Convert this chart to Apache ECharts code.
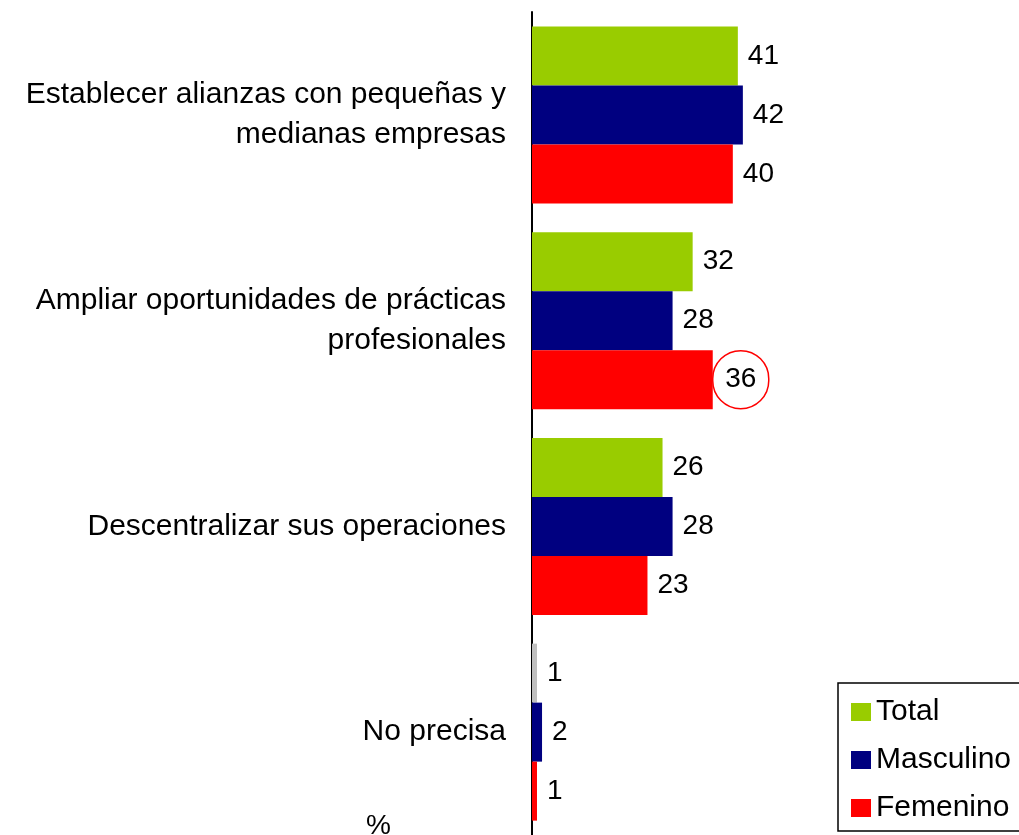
<!DOCTYPE html>
<html>
<head>
<meta charset="utf-8">
<script src="https://cdn.jsdelivr.net/npm/echarts@6/dist/echarts.min.js"></script>
<style>
  html, body { margin: 0; padding: 0; background: #fff; }
  #chart { width: 1019px; height: 835px; }
</style>
</head>
<body>
<div id="chart"></div>
<script>
var categories = [
  "Establecer alianzas con pequeñas y\nmedianas empresas",
  "Ampliar oportunidades de prácticas\nprofesionales",
  "Descentralizar sus operaciones",
  "No precisa"
];
var totalValues = [41, 32, 26, 1];
var masculinoValues = [42, 28, 28, 2];
var femeninoValues = [40, 36, 23, 1];

var font = "Liberation Sans, Arial, sans-serif";

var labelStyle = {
  show: true,
  position: "right",
  distance: 10,
  fontSize: 28,
  fontFamily: font,
  color: "#000"
};

var myChart = echarts.init(document.getElementById("chart"));

var option = {
  animation: false,
  textStyle: { fontFamily: font },
  grid: { left: 532, top: 12, right: 0, bottom: 0 },
  xAxis: {
    type: "value",
    min: 0,
    max: 97,
    show: false
  },
  yAxis: {
    type: "category",
    inverse: true,
    data: categories,
    axisLine: { lineStyle: { color: "#000", width: 2 } },
    axisTick: { show: false },
    axisLabel: {
      fontSize: 30,
      color: "#000",
      fontFamily: font,
      margin: 26,
      lineHeight: 40,
      align: "right"
    }
  },
  legend: {
    orient: "vertical",
    left: 838,
    top: 683,
    borderColor: "#000",
    borderWidth: 1.5,
    padding: [14, 12, 8, 13],
    itemGap: 18,
    itemWidth: 20,
    itemHeight: 18,
    itemTextGap: 7,
    icon: "rect",
    textStyle: { fontSize: 30, color: "#000", fontFamily: font },
    data: ["Total", "Masculino", "Femenino"]
  },
  series: [
    {
      name: "Total",
      type: "bar",
      barWidth: 59,
      barGap: "0%",
      itemStyle: { color: "#99cc00" },
      label: labelStyle,
      data: totalValues.map(function (v, i) {
        if (i === 3) return { value: v, itemStyle: { color: "#c0c0c0" } };
        return v;
      })
    },
    {
      name: "Masculino",
      type: "bar",
      barWidth: 59,
      barGap: "0%",
      itemStyle: { color: "#000080" },
      label: labelStyle,
      data: masculinoValues
    },
    {
      name: "Femenino",
      type: "bar",
      barWidth: 59,
      barGap: "0%",
      itemStyle: { color: "#ff0000" },
      label: labelStyle,
      data: femeninoValues.map(function (v, i) {
        if (i === 1) {
          return {
            value: v,
            label: {
              distance: 0,
              formatter: "{o|{c}}",
              rich: {
                o: {
                  width: 56,
                  height: 58,
                  lineHeight: 58,
                  align: "center",
                  fontSize: 28,
                  fontFamily: font,
                  color: "#000",
                  borderColor: "#ff0000",
                  borderWidth: 1.5,
                  borderRadius: 29
                }
              }
            }
          };
        }
        return v;
      })
    }
  ],
  graphic: [
    {
      type: "text",
      left: 366,
      top: 812,
      style: { text: "%", fontSize: 28, fontFamily: font, fill: "#000" }
    }
  ]
};

myChart.setOption(option);
</script>
</body>
</html>
